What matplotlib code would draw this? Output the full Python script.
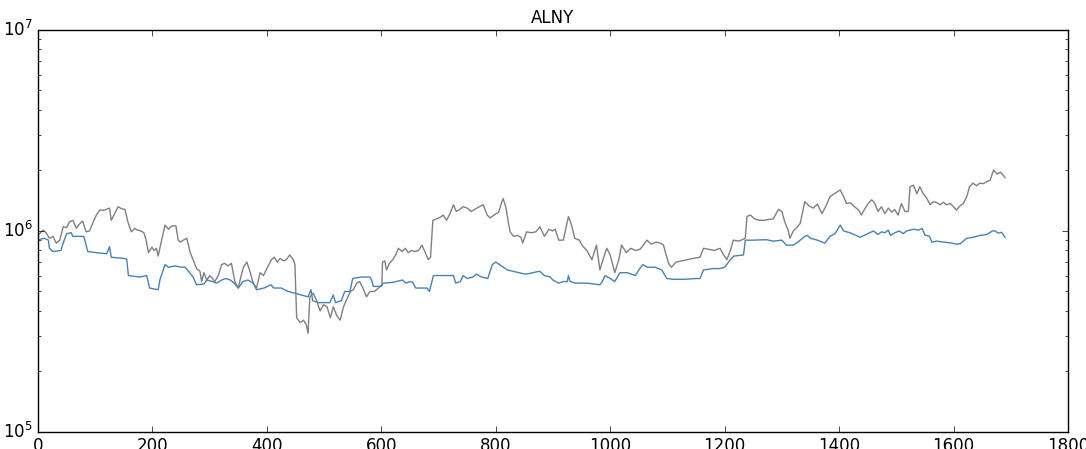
import numpy as np
import matplotlib
matplotlib.use("Agg")
import matplotlib.pyplot as plt

# price series (values in thousands)
gray_x = [0, 3, 9, 14, 20, 26, 32, 38, 44, 50, 55, 61, 67, 72, 78, 84, 90, 96, 102, 108,
          116, 125, 128, 134, 140, 146, 152, 157, 163, 169, 174, 180, 185, 189, 193, 199, 203, 207, 210, 216,
          222, 228, 234, 241, 245, 249, 254, 260, 266, 271, 277, 283, 286, 290, 295, 300, 305, 309, 315, 321,
          326, 332, 338, 344, 350, 355, 359, 365, 371, 376, 382, 388, 394, 400, 408, 413, 418, 423, 429, 434,
          440, 446, 449, 452, 458, 464, 469, 472, 475, 481, 487, 493, 499, 505, 511, 516, 522, 528, 534, 540,
          546, 551, 557, 562, 568, 574, 580, 588, 595, 601, 602, 606, 609, 614, 620, 625, 630, 636, 642, 647,
          653, 659, 665, 671, 676, 682, 686, 690, 697, 703, 708, 714, 720, 726, 731, 737, 743, 750, 757, 763,
          769, 778, 785, 790, 797, 805, 810, 813, 818, 822, 825, 831, 838, 844, 847, 854, 862, 870, 877, 885,
          893, 899, 904, 910, 918, 927, 932, 938, 946, 952, 959, 968, 976, 982, 988, 994, 1000, 1008, 1015, 1020,
          1028, 1036, 1044, 1052, 1058, 1064, 1072, 1080, 1088, 1093, 1102, 1107, 1115, 1125, 1135, 1145, 1157, 1163, 1172, 1182,
          1192, 1198, 1204, 1210, 1215, 1225, 1236, 1239, 1245, 1252, 1260, 1268, 1276, 1285, 1294, 1300, 1305, 1311, 1314, 1320,
          1326, 1332, 1340, 1348, 1355, 1362, 1370, 1377, 1384, 1393, 1402, 1408, 1413, 1420, 1427, 1434, 1439, 1445, 1451, 1457,
          1462, 1468, 1474, 1480, 1486, 1492, 1497, 1503, 1509, 1515, 1521, 1524, 1530, 1536, 1541, 1547, 1553, 1559, 1565, 1571,
          1577, 1582, 1588, 1594, 1599, 1605, 1611, 1617, 1623, 1628, 1634, 1640, 1646, 1652, 1658, 1664, 1670, 1676, 1682, 1687,
          1690]
gray_k = [955, 970, 1010, 980, 920, 940, 870, 900, 1050, 1040, 1110, 1130, 1030, 1080, 1120, 990, 1000, 1100, 1200, 1270,
          1270, 1300, 1130, 1220, 1320, 1290, 1280, 1110, 990, 1030, 1010, 1000, 980, 900, 780, 830, 800, 820, 750, 900,
          1070, 1020, 1060, 1060, 900, 880, 900, 920, 780, 720, 650, 630, 560, 620, 570, 600, 580, 560, 600, 680,
          690, 670, 690, 560, 520, 600, 660, 700, 620, 550, 520, 620, 600, 650, 720, 740, 700, 730, 710, 720,
          760, 720, 680, 370, 350, 360, 340, 310, 470, 490, 450, 400, 430, 420, 370, 420, 380, 360, 420, 460,
          500, 510, 550, 560, 520, 470, 500, 500, 520, 540, 700, 710, 640, 690, 720, 760, 820, 790, 820, 780,
          800, 790, 800, 850, 790, 720, 740, 1130, 1150, 1170, 1200, 1130, 1220, 1350, 1250, 1280, 1320, 1300, 1250, 1280,
          1310, 1350, 1200, 1160, 1200, 1240, 1380, 1450, 1300, 1100, 990, 940, 950, 930, 870, 990, 980, 990, 1050, 940,
          1020, 1000, 1020, 900, 900, 1180, 1080, 920, 900, 840, 800, 720, 850, 640, 730, 820, 760, 620, 720, 850,
          780, 820, 800, 810, 850, 900, 860, 880, 870, 850, 690, 660, 700, 710, 720, 730, 740, 820, 810, 800,
          820, 760, 720, 800, 900, 890, 920, 1180, 1200, 1150, 1130, 1130, 1140, 1150, 1280, 1250, 1110, 1010, 920, 1000,
          1040, 1090, 1400, 1330, 1300, 1360, 1220, 1330, 1480, 1540, 1600, 1480, 1370, 1380, 1320, 1270, 1200, 1290, 1370, 1430,
          1380, 1250, 1320, 1220, 1300, 1240, 1280, 1200, 1370, 1250, 1250, 1660, 1690, 1530, 1660, 1530, 1460, 1350, 1400, 1380,
          1350, 1390, 1350, 1370, 1330, 1270, 1330, 1370, 1480, 1660, 1730, 1680, 1730, 1720, 1760, 1790, 2010, 1920, 1960, 1890,
          1840]

blue_x = [0, 5, 10, 15, 18, 20, 26, 40, 44, 50, 58, 61, 80, 84, 87, 102, 120, 125, 128, 150,
          155, 158, 178, 190, 195, 210, 213, 222, 228, 240, 250, 257, 265, 271, 277, 290, 295, 305, 312, 321,
          328, 336, 343, 350, 358, 367, 376, 382, 395, 407, 412, 425, 437, 449, 472, 477, 480, 490, 510, 516,
          520, 530, 536, 545, 550, 565, 580, 583, 586, 600, 603, 620, 637, 643, 650, 655, 660, 680, 684, 691,
          726, 730, 738, 743, 750, 760, 766, 775, 786, 794, 800, 810, 820, 830, 851, 860, 870, 877, 885, 895,
          900, 910, 918, 925, 927, 930, 940, 960, 970, 982, 986, 991, 1000, 1008, 1017, 1030, 1044, 1050, 1057, 1065,
          1078, 1090, 1099, 1110, 1130, 1150, 1157, 1163, 1180, 1192, 1200, 1210, 1216, 1233, 1236, 1250, 1273, 1285, 1300, 1308,
          1320, 1328, 1340, 1345, 1350, 1362, 1375, 1384, 1393, 1402, 1408, 1419, 1437, 1447, 1460, 1468, 1474, 1480, 1486, 1490,
          1496, 1505, 1512, 1518, 1530, 1539, 1545, 1550, 1558, 1562, 1571, 1583, 1597, 1605, 1612, 1623, 1634, 1646, 1658, 1668,
          1673, 1678, 1684, 1690]
blue_k = [900, 910, 920, 910, 900, 820, 790, 800, 870, 970, 980, 940, 940, 850, 790, 780, 770, 835, 740, 730,
          725, 600, 590, 600, 520, 510, 570, 680, 660, 670, 660, 660, 620, 590, 540, 545, 570, 560, 550, 570,
          580, 570, 550, 520, 560, 570, 550, 510, 520, 540, 520, 520, 500, 490, 470, 510, 450, 440, 440, 480,
          440, 450, 500, 500, 580, 590, 590, 570, 530, 530, 550, 555, 570, 550, 560, 555, 520, 520, 500, 600,
          600, 550, 560, 600, 580, 590, 610, 590, 580, 680, 700, 670, 640, 630, 610, 615, 625, 630, 600, 590,
          570, 550, 560, 560, 600, 560, 550, 550, 545, 540, 560, 600, 580, 560, 620, 620, 600, 640, 680, 660,
          660, 640, 580, 575, 575, 580, 580, 640, 650, 650, 660, 720, 750, 760, 900, 900, 905, 890, 900, 850,
          850, 880, 940, 950, 920, 900, 870, 940, 970, 1070, 1000, 980, 930, 960, 1000, 960, 990, 980, 1010, 950,
          975, 1000, 970, 1000, 1020, 1010, 1030, 955, 940, 880, 890, 880, 870, 860, 865, 920, 930, 950, 960, 1000,
          1000, 975, 985, 930]

plt.style.use("classic")

fig = plt.figure(figsize=(10.86, 4.49), dpi=100, facecolor="white")
ax = fig.add_axes([0.035, 0.038, 0.9484, 0.8952])

ax.plot(gray_x, np.array(gray_k) * 1e3, color="gray", lw=1.0)
ax.plot(blue_x, np.array(blue_k) * 1e3, color="steelblue", lw=1.0)

ax.set_yscale("log")
ax.set_ylim(1e5, 1e7)
ax.set_xlim(0, 1800)
ax.set_xticks(np.arange(0, 1801, 200))
ax.set_title("ALNY", fontsize=12)
ax.tick_params(labelsize=12)

fig.savefig("out.png", dpi=100, facecolor="white")
